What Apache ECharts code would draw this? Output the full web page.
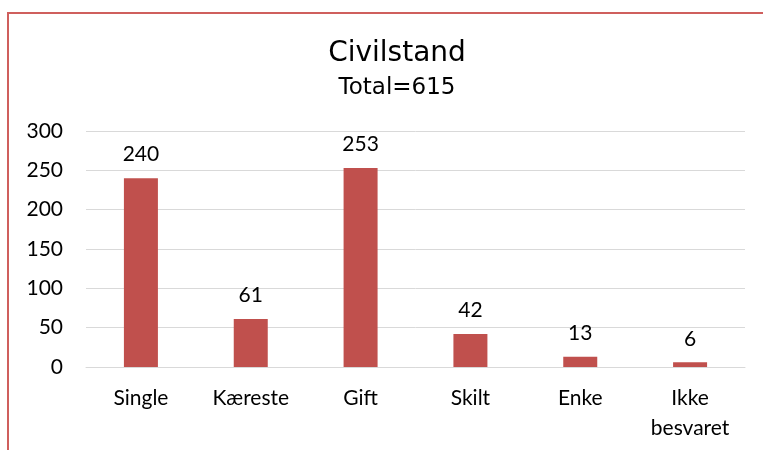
<!DOCTYPE html>
<html>
<head>
<meta charset="utf-8">
<script src="https://cdn.jsdelivr.net/npm/echarts@6/dist/echarts.min.js"></script>
<style>
  html, body { margin: 0; padding: 0; background: #fff; }
  #main { width: 763px; height: 450px; }
</style>
</head>
<body>
<div id="main"></div>
<script>
// data
const categories = ['Single', 'Kæreste', 'Gift', 'Skilt', 'Enke', 'Ikke\nbesvaret']
const counts = [240, 61, 253, 42, 13, 6]
const yTicks = [0, 50, 100, 150, 200, 250, 300]

const font = 'Lato, "Open Sans", sans-serif'
const titleFont = '"DejaVu Sans", Verdana, sans-serif'
const chart = echarts.init(document.getElementById('main'))

chart.setOption({
  animation: false,
  backgroundColor: '#fff',
  title: {
    text: 'Civilstand',
    subtext: 'Total=' + counts.reduce((a, b) => a + b, 0),
    left: 392,
    textAlign: 'center',
    top: 35,
    itemGap: 9,
    textStyle: { fontFamily: titleFont, fontSize: 28, fontWeight: 'normal', color: '#000' },
    subtextStyle: { fontFamily: titleFont, fontSize: 23, color: '#000' }
  },
  graphic: [
    {
      type: 'rect',
      shape: { x: 8, y: 13, width: 800, height: 500 },
      style: { fill: 'none', stroke: '#cf5f5d', lineWidth: 2 },
      silent: true
    }
  ],
  grid: { left: 86, right: 18, top: 131, bottom: 83 },
  xAxis: {
    type: 'category',
    data: categories,
    axisLine: { lineStyle: { color: '#d9d9d9', width: 1 } },
    axisTick: { show: false },
    axisLabel: {
      fontFamily: font, fontSize: 21, color: '#000', margin: 16,
      lineHeight: 30, interval: 0
    }
  },
  yAxis: {
    type: 'value',
    min: yTicks[0],
    max: yTicks[yTicks.length - 1],
    interval: 50,
    axisLine: { show: false },
    axisTick: { show: false },
    splitLine: { lineStyle: { color: '#d9d9d9', width: 1 } },
    axisLabel: { fontFamily: font, fontSize: 21, color: '#000', margin: 23 }
  },
  series: [
    {
      type: 'bar',
      data: counts,
      barWidth: 34,
      itemStyle: { color: '#c0504d' },
      label: {
        show: true, position: 'top', distance: 13,
        fontFamily: font, fontSize: 21, color: '#000'
      }
    }
  ]
})
</script>
</body>
</html>
